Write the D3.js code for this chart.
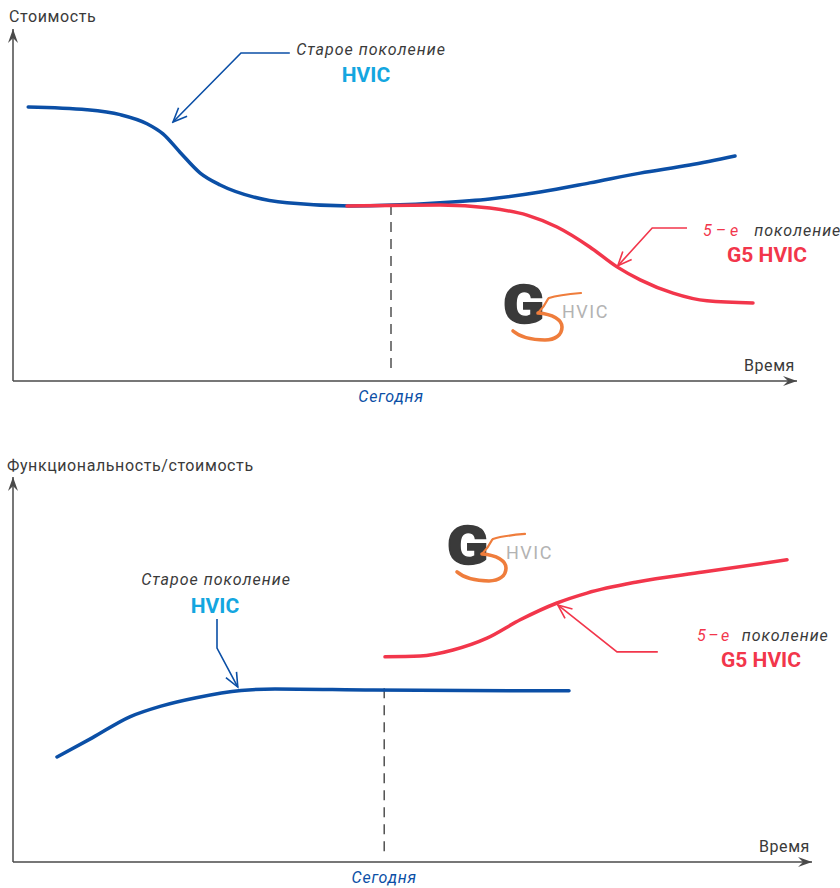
<!DOCTYPE html>
<html>
<head>
<meta charset="utf-8">
<script src="https://cdn.jsdelivr.net/npm/d3@7"></script>
<style>
  body { margin: 0; background: #fff; }
  svg { display: block; font-family: Roboto, "Noto Sans", sans-serif; }
</style>
</head>
<body>
<div id="chart"></div>
<script>
// time (0..100) and value (0..100) units
const topOldT = [1.9, 9.25, 13.4, 16.75, 18.75, 20.9, 23.4, 25.9, 30, 34.25, 42.1, 53.4, 59.6, 65.9, 72.1, 78.4, 84.6, 90.25];
const topOldV = [78.3, 77.5, 76.1, 73.5, 70.6, 65.3, 59.4, 56, 52.6, 50.9, 50, 50.9, 52, 54, 56.6, 59.4, 61.7, 64.3];
const topNewT = [41.75, 53.4, 59.6, 64.25, 68, 72.1, 75.5, 78.4, 82.5, 86.75, 92.5];
const topNewV = [50, 50.3, 49.4, 47.4, 44, 38.3, 32.6, 28.9, 25.1, 22.9, 22.3];

const botOldT = [5.5, 9.9, 14.6, 18.5, 22.9, 28.5, 32.75, 45, 69.5];
const botOldV = [27.5, 32.5, 38, 40.8, 43, 44.9, 45.3, 45, 44.8];
const botNewT = [46.5, 50.9, 55, 59.25, 63.4, 68, 71.75, 78, 86.25, 96.75];
const botNewV = [53.7, 53.9, 55.5, 58.6, 63.4, 67.8, 70.4, 73.3, 75.9, 79.1];

const todayT = [47.25, 46.4];
const todayTopV = [50.3, 45.5];

const yTitles = ["Стоимость", "Функциональность/стоимость"];
const xTitle = "Время";
const todayLabel = "Сегодня";
const oldLabel = ["Старое поколение", "HVIC"];
const newLabel = ["5–е", "поколение", "G5 HVIC"];

// callout leader lines [t, v]
const topOldArrow = [[34.6, 93.7], [28.5, 93.7], [20, 74]];
const topNewArrow = [[84.25, 43.7], [79.9, 43.7], [75.6, 32.9]];
const botOldArrow = [[25.5, 63.6], [25.5, 56], [28.1, 45.8]];
const botNewArrow = [[80.6, 55], [75.5, 55], [68.1, 67.3]];

const BLUE = "#0b4fa6", RED = "#f2364b", CYAN = "#14a6e0", GRAY = "#3a3a3a", AXIS = "#4a4a4a";

const W = 840, H = 888;
const svg = d3.select("#chart").append("svg").attr("width", W).attr("height", H);

const defs = svg.append("defs");
defs.append("marker").attr("id", "axarrow")
    .attr("viewBox", "-14 -6 16 12").attr("refX", 0).attr("refY", 0)
    .attr("markerWidth", 16).attr("markerHeight", 12).attr("markerUnits", "userSpaceOnUse")
    .attr("orient", "auto")
    .append("path").attr("d", "M0,0 L-14,-5 L-9,0 L-14,5 Z").attr("fill", AXIS);

function arrowMarker(id, color) {
    defs.append("marker").attr("id", id)
        .attr("viewBox", "-16 -8 18 16").attr("refX", 0).attr("refY", 0)
        .attr("markerWidth", 18).attr("markerHeight", 16).attr("markerUnits", "userSpaceOnUse")
        .attr("orient", "auto")
        .append("path").attr("d", "M-14,-6 L0,0 L-14,6").attr("fill", "none")
        .attr("stroke", color).attr("stroke-width", 1.6);
}
arrowMarker("blueHead", BLUE);
arrowMarker("redHead", RED);

const x = d3.scaleLinear().domain([0, 100]).range([13, 813]);

function drawLogo(g) {
    g.append("text").attr("x", 0).attr("y", 40).attr("font-size", 54).attr("font-weight", 900)
        .attr("transform", "scale(1.12,1)")
        .attr("fill", "#3a3a3a").attr("stroke", "#3a3a3a").attr("stroke-width", 1.5).text("G");
    // orange "5" swoosh
    g.append("path")
        .attr("d", "M78,10 C66,11 52,13 46,15 L45,16 C42,22 38,27 35,30")
        .attr("fill", "none").attr("stroke", "#ef7d3c").attr("stroke-width", 2.2).attr("stroke-linecap", "round");
    g.append("path")
        .attr("d", "M35,30 C50,31 59,37 59,44 C59,52 52,57 42,57 C30,57 17,54 10,48")
        .attr("fill", "none").attr("stroke", "#ef7d3c").attr("stroke-width", 3.6).attr("stroke-linecap", "round");
    g.append("text").attr("x", 59).attr("y", 35).attr("font-size", 18).attr("letter-spacing", 1.5)
        .attr("fill", "#b3b3b3").text("HVIC");
}

function drawPanel(p) {
    const y = d3.scaleLinear().domain([0, 100]).range([p.y0, p.y1]);
    const g = svg.append("g");

    // axes
    g.append("line").attr("x1", x(0)).attr("x2", x(0)).attr("y1", y(0)).attr("y2", p.yTip)
        .attr("stroke", AXIS).attr("stroke-width", 1.5).attr("marker-end", "url(#axarrow)");
    g.append("line").attr("x1", x(0)).attr("x2", p.xTip).attr("y1", y(0)).attr("y2", y(0))
        .attr("stroke", AXIS).attr("stroke-width", 1.5).attr("marker-end", "url(#axarrow)");
    g.append("text").attr("x", p.yTitleX).attr("y", p.yTitleY).attr("font-size", 16)
        .attr("letter-spacing", 0.6).attr("fill", GRAY).text(p.yTitle);
    g.append("text").attr("x", p.xTip - 2).attr("y", y(0) - 10).attr("text-anchor", "end")
        .attr("font-size", 16).attr("letter-spacing", 0.6).attr("fill", GRAY).text(xTitle);

    // today marker
    g.append("line").attr("x1", x(p.today)).attr("x2", x(p.today))
        .attr("y1", y(p.todayV)).attr("y2", y(0) - 6)
        .attr("stroke", "#444").attr("stroke-width", 1.4).attr("stroke-dasharray", "10,7");
    g.append("text").attr("x", x(p.today)).attr("y", y(0) + 21).attr("text-anchor", "middle")
        .attr("font-size", 16).attr("font-style", "italic").attr("letter-spacing", 0.8)
        .attr("fill", BLUE).text(todayLabel);

    drawLogo(g.append("g").attr("transform", `translate(${x(p.logo[0])},${y(p.logo[1])})`));

    const line = d3.line().x(d => x(d[0])).y(d => y(d[1])).curve(d3.curveMonotoneX);
    g.append("path").datum(d3.zip(p.oldT, p.oldV)).attr("d", line)
        .attr("fill", "none").attr("stroke", BLUE).attr("stroke-width", 3.5).attr("stroke-linecap", "round");
    g.append("path").datum(d3.zip(p.newT, p.newV)).attr("d", line)
        .attr("fill", "none").attr("stroke", RED).attr("stroke-width", 3.5).attr("stroke-linecap", "round");

    // callouts
    const poly = d3.line().x(d => x(d[0])).y(d => y(d[1]));
    g.append("path").datum(p.oldArrow).attr("d", poly).attr("fill", "none")
        .attr("stroke", BLUE).attr("stroke-width", 1.6).attr("marker-end", "url(#blueHead)");
    g.append("path").datum(p.newArrow).attr("d", poly).attr("fill", "none")
        .attr("stroke", RED).attr("stroke-width", 1.6).attr("marker-end", "url(#redHead)");

    g.append("text").attr("x", p.oldText[0]).attr("y", p.oldText[1]).attr("text-anchor", "middle")
        .attr("font-size", 16).attr("font-style", "italic").attr("letter-spacing", 1)
        .attr("fill", GRAY).text(oldLabel[0]);
    g.append("text").attr("x", p.oldText[2]).attr("y", p.oldText[3]).attr("text-anchor", "middle")
        .attr("font-size", 21).attr("font-weight", 700).attr("fill", CYAN).text(oldLabel[1]);

    const t = g.append("text").attr("x", p.newText[0]).attr("y", p.newText[1])
        .attr("font-size", 16).attr("font-style", "italic");
    t.append("tspan").attr("fill", RED).attr("letter-spacing", p.newText[5]).text(newLabel[0]);
    t.append("tspan").attr("dx", p.newText[4]).attr("fill", GRAY).attr("letter-spacing", 1).text(newLabel[1]);
    g.append("text").attr("x", p.newText[2]).attr("y", p.newText[3]).attr("text-anchor", "middle")
        .attr("font-size", 21).attr("font-weight", 700).attr("fill", RED).text(newLabel[2]);
}

drawPanel({
    y0: 381, y1: 31, yTip: 29, xTip: 797,
    yTitle: yTitles[0], yTitleX: 9, yTitleY: 22,
    today: todayT[0], todayV: todayTopV[0],
    oldT: topOldT, oldV: topOldV, newT: topNewT, newV: topNewV,
    oldArrow: topOldArrow, newArrow: topNewArrow,
    oldText: [371, 55, 366, 82], newText: [703, 236, 767, 262, 12, 4],
    logo: [61.25, 28]
});

drawPanel({
    y0: 862, y1: 480, yTip: 477, xTip: 812,
    yTitle: yTitles[1], yTitleX: 7, yTitleY: 471,
    today: todayT[1], todayV: todayTopV[1],
    oldT: botOldT, oldV: botOldV, newT: botNewT, newV: botNewV,
    oldArrow: botOldArrow, newArrow: botNewArrow,
    oldText: [216, 585, 215, 613], newText: [697, 641, 761, 667, 10, 2.5],
    logo: [54.25, 88.5]
});
</script>
</body>
</html>
